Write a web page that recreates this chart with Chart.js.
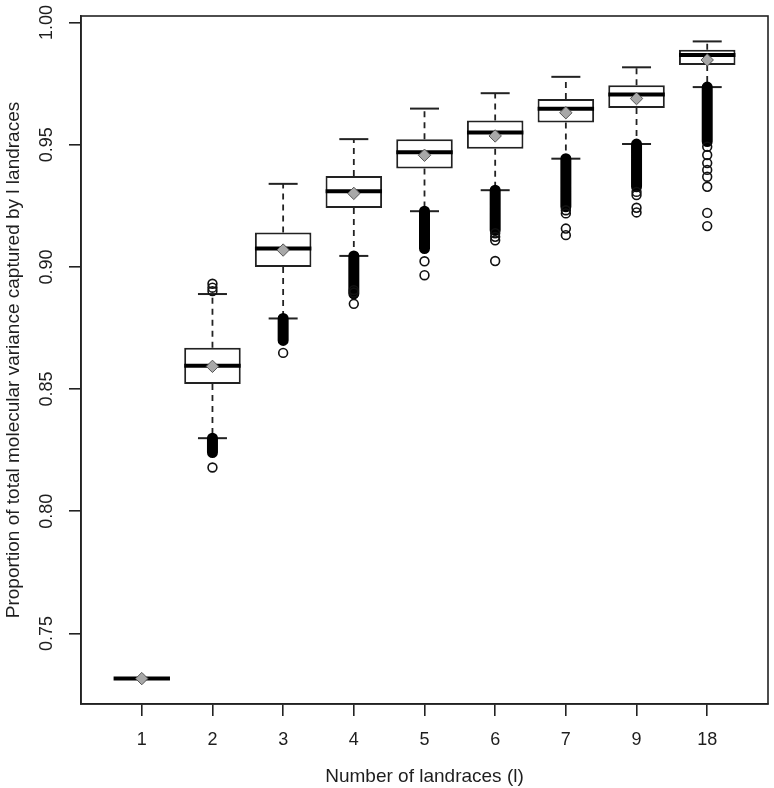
<!DOCTYPE html>
<html>
<head>
<meta charset="utf-8">
<script src="https://cdn.jsdelivr.net/npm/chart.js@4/dist/chart.umd.min.js"></script>
<style>
  body { margin: 0; background: #fff; }
</style>
</head>
<body>
<canvas id="myChart" width="774" height="788"></canvas>
<script>
// values
const categories = ['1', '2', '3', '4', '5', '6', '7', '9', '18'];
const q1 = [0.7315, 0.8521, 0.9000, 0.9241, 0.9403, 0.9484, 0.9591, 0.9650, 0.9826];
const medians = [0.7315, 0.8595, 0.9075, 0.9310, 0.9469, 0.9550, 0.9647, 0.9706, 0.9867];
const q3 = [0.7315, 0.8669, 0.9141, 0.9372, 0.9523, 0.9599, 0.9687, 0.9744, 0.9889];
const means = [0.7315, 0.8593, 0.9069, 0.9301, 0.9457, 0.9536, 0.9631, 0.9689, 0.9847];
const whiskerLow = [null, 0.8299, 0.8789, 0.9045, 0.9228, 0.9314, 0.9443, 0.9503, 0.9736];
const whiskerHigh = [null, 0.8889, 0.9340, 0.9523, 0.9648, 0.9711, 0.9778, 0.9817, 0.9923];
// lower end of the solid band of overlapping outliers under each whisker
const denseLow = [null, 0.8240, 0.8699, 0.8890, 0.9075, 0.9150, 0.9246, 0.9328, 0.9513];
// separate outlier circles
const outliers = [
    [],
    [0.8931, 0.8915, 0.8901, 0.8179],
    [0.8648],
    [0.8905, 0.8895, 0.8849],
    [0.9023, 0.8966],
    [0.9138, 0.9123, 0.9109, 0.9024],
    [0.9232, 0.9219, 0.9157, 0.9130],
    [0.9307, 0.9294, 0.9242, 0.9223],
    [0.9492, 0.9458, 0.9425, 0.9397, 0.9369, 0.9328, 0.9221, 0.9167]
];
const yTicks = [0.75, 0.80, 0.85, 0.90, 0.95, 1.00];

const textColor = '#1e1e1e';
const lineColor = '#222';
const fontFamily = '"Liberation Sans", Arial, sans-serif';

const xs = categories.map((c, i) => i + 1);

// dashed whisker segments, broken with null points
const whiskerSegs = [];
xs.forEach((x, i) => {
    if (whiskerHigh[i] === null) return;
    whiskerSegs.push({ x: x, y: q3[i] }, { x: x, y: whiskerHigh[i] }, { x: x, y: null });
    whiskerSegs.push({ x: x, y: q1[i] }, { x: x, y: whiskerLow[i] }, { x: x, y: null });
});

const denseSegs = [];
xs.forEach((x, i) => {
    if (denseLow[i] === null) return;
    denseSegs.push({ x: x, y: whiskerLow[i] }, { x: x, y: denseLow[i] }, { x: x, y: null });
});

const caps = [];
xs.forEach((x, i) => {
    if (whiskerHigh[i] === null) return;
    caps.push({ x: x, y: whiskerHigh[i] }, { x: x, y: whiskerLow[i] });
});

const outlierPts = [];
xs.forEach((x, i) => outliers[i].forEach(v => outlierPts.push({ x: x, y: v })));

const rotatedYLabels = {
    id: 'rotatedYLabels',
    afterDraw(chart) {
        const ctx = chart.ctx;
        const y = chart.scales.y;
        ctx.save();
        ctx.font = '18px ' + fontFamily;
        ctx.fillStyle = textColor;
        ctx.textAlign = 'center';
        ctx.textBaseline = 'middle';
        y.ticks.forEach(t => {
            ctx.save();
            ctx.translate(47, y.getPixelForValue(t.value));
            ctx.rotate(-Math.PI / 2);
            ctx.fillText(t.value.toFixed(2), 0, 0);
            ctx.restore();
        });
        ctx.restore();
    }
};

const frame = {
    id: 'frame',
    afterDraw(chart) {
        const a = chart.chartArea;
        const ctx = chart.ctx;
        ctx.save();
        ctx.strokeStyle = lineColor;
        ctx.lineWidth = 1.6;
        ctx.strokeRect(a.left, a.top, a.right - a.left, a.bottom - a.top);
        ctx.restore();
    }
};

new Chart(document.getElementById('myChart'), {
    type: 'bar',
    data: {
        datasets: [
            {
                type: 'line',
                label: 'whiskers',
                data: whiskerSegs,
                borderColor: lineColor,
                borderWidth: 1.8,
                borderDash: [6, 5],
                pointRadius: 0,
                spanGaps: false,
                order: 7
            },
            {
                type: 'line',
                label: 'dense outliers',
                data: denseSegs,
                borderColor: '#000',
                borderWidth: 11,
                borderCapStyle: 'round',
                pointRadius: 0,
                spanGaps: false,
                order: 6
            },
            {
                type: 'scatter',
                label: 'caps',
                data: caps,
                pointStyle: 'line',
                pointRadius: 14.5,
                borderColor: lineColor,
                borderWidth: 2,
                order: 6
            },
            {
                type: 'bar',
                label: 'IQR',
                data: xs.map((x, i) => ({ x: x, y: [q1[i], q3[i]] })),
                backgroundColor: '#fff',
                borderColor: lineColor,
                borderWidth: 2,
                borderSkipped: false,
                barPercentage: 0.8,
                categoryPercentage: 1,
                grouped: false,
                order: 5
            },
            {
                type: 'scatter',
                label: 'median',
                data: xs.map((x, i) => ({ x: x, y: medians[i] })),
                pointStyle: 'line',
                pointRadius: 28.2,
                borderColor: '#000',
                borderWidth: 4,
                order: 4
            },
            {
                type: 'scatter',
                label: 'outliers',
                data: outlierPts,
                pointStyle: 'circle',
                pointRadius: 4.4,
                backgroundColor: 'rgba(255,255,255,0)',
                borderColor: '#111',
                borderWidth: 1.6,
                order: 3
            },
            {
                type: 'scatter',
                label: 'mean',
                data: xs.map((x, i) => ({ x: x, y: means[i] })),
                pointStyle: 'rectRot',
                pointRadius: 6.2,
                backgroundColor: '#a8a8a8',
                borderColor: '#555',
                borderWidth: 1,
                order: 2
            }
        ]
    },
    options: {
        responsive: false,
        animation: false,
        layout: { autoPadding: false, padding: { left: 0, top: 16, right: 6, bottom: 0 } },
        plugins: {
            legend: { display: false },
            tooltip: { enabled: false }
        },
        scales: {
            x: {
                type: 'linear',
                offset: false,
                min: 0.14,
                max: 9.86,
                afterBuildTicks: scale => { scale.ticks = xs.map(v => ({ value: v })); },
                afterFit: scale => { scale.height = 84; },
                grid: { offset: false, drawOnChartArea: false, drawTicks: true, tickLength: 12, color: lineColor, lineWidth: 1.6 },
                border: { display: true, color: lineColor, width: 1.6 },
                ticks: {
                    padding: 13,
                    color: textColor,
                    maxRotation: 0,
                    font: { family: fontFamily, size: 18 },
                    callback: v => categories[v - 1]
                },
                title: {
                    display: true,
                    text: 'Number of landraces (l)',
                    color: textColor,
                    font: { family: fontFamily, size: 19 },
                    padding: { top: 0, bottom: 0 }
                }
            },
            y: {
                min: 0.7211,
                max: 1.0027,
                afterBuildTicks: scale => { scale.ticks = yTicks.map(v => ({ value: v })); },
                afterFit: scale => { scale.width = 81; },
                grid: { drawOnChartArea: false, drawTicks: true, tickLength: 12, color: lineColor, lineWidth: 1.6 },
                border: { display: true, color: lineColor, width: 1.6 },
                ticks: {
                    color: 'rgba(0,0,0,0)',
                    font: { family: fontFamily, size: 1 },
                    callback: v => v.toFixed(2)
                },
                title: {
                    display: true,
                    text: 'Proportion of total molecular variance captured by l landraces',
                    color: textColor,
                    font: { family: fontFamily, size: 19 },
                    padding: { top: 2, bottom: 0 }
                }
            }
        }
    },
    plugins: [rotatedYLabels, frame]
});
</script>
</body>
</html>
